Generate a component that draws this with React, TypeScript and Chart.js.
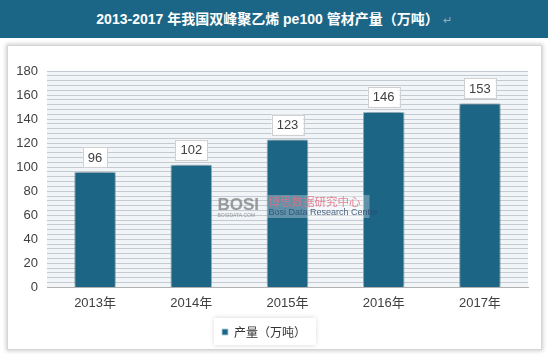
import React, { useEffect, useRef } from "react";
import { Chart, registerables } from "chart.js";

Chart.register(...registerables);

const categories = ["2013年", "2014年", "2015年", "2016年", "2017年"];
const production = [96, 102, 123, 146, 153];
const seriesName = "产量（万吨）";
const titleText = "2013-2017 年我国双峰聚乙烯 pe100 管材产量（万吨）";
const yMax = 180;
const yLabelStep = 20;
const yStripeStep = 4;

const BAR = "#1c6585";
const FONT = '"Liberation Sans", "Noto Sans CJK SC", sans-serif';

const plotBg = {
  id: "plotBg",
  beforeDraw(chart: any) {
    const { ctx, chartArea: a } = chart;
    ctx.save();
    ctx.fillStyle = "#f2f5f8";
    ctx.fillRect(a.left, a.top, a.right - a.left, a.bottom - a.top);
    const lg = chart.legend;
    if (lg && lg.legendHitBoxes && lg.legendHitBoxes.length) {
      const hb = lg.legendHitBoxes[0];
      const x = hb.left - 8;
      const y = hb.top - 8;
      const w = hb.width + 18;
      const h = hb.height + 15;
      ctx.shadowColor = "rgba(0,0,0,0.18)";
      ctx.shadowBlur = 5;
      ctx.fillStyle = "#ffffff";
      ctx.fillRect(x, y, w, h);
    }
    ctx.restore();
  },
};

const barShadow = {
  id: "barShadow",
  beforeDatasetsDraw(chart: any) {
    const ctx = chart.ctx;
    ctx.save();
    ctx.shadowColor = "rgba(0,0,0,0.45)";
    ctx.shadowBlur = 6;
    ctx.shadowOffsetX = 0;
    ctx.shadowOffsetY = 0;
  },
  afterDatasetsDraw(chart: any) {
    const ctx = chart.ctx;
    ctx.restore();
    const a = chart.chartArea;
    const cx = (a.left + a.right) / 2;
    ctx.save();
    ctx.fillStyle = "rgba(255,255,255,0.3)";
    ctx.fillRect(cx - 20, 195, 102, 23);
    ctx.globalAlpha = 0.85;
    ctx.font = `bold 17px ${FONT}`;
    ctx.fillStyle = "#8a8a8a";
    ctx.textBaseline = "middle";
    ctx.textAlign = "left";
    ctx.fillText("BOSI", cx - 70, 205);
    ctx.font = `5px ${FONT}`;
    ctx.fillText("BOSIDATA.COM", cx - 70, 216);
    ctx.font = `11.5px "Noto Sans CJK SC", sans-serif`;
    ctx.fillStyle = "#e07080";
    ctx.fillText("博思数据研究中心", cx - 19, 202);
    ctx.font = `9px ${FONT}`;
    ctx.fillStyle = "#2a4a70";
    ctx.fillText("Bosi Data Research Center", cx - 19, 213);
    ctx.restore();
    const meta = chart.getDatasetMeta(0);
    ctx.save();
    ctx.font = `13px ${FONT}`;
    ctx.textAlign = "center";
    ctx.textBaseline = "middle";
    meta.data.forEach((el: any, i: number) => {
      const txt = String(chart.data.datasets[0].data[i]);
      const tw = ctx.measureText(txt).width;
      const w = tw + 10;
      const h = 20;
      const x = el.x - w / 2;
      const y = el.y - 5 - h;
      ctx.fillStyle = "#ffffff";
      ctx.fillRect(x, y, w, h);
      ctx.strokeStyle = "#d0d0d0";
      ctx.lineWidth = 1;
      ctx.strokeRect(Math.round(x) + 0.5, Math.round(y) + 0.5, Math.round(w), h);
      ctx.fillStyle = "#404040";
      ctx.fillText(txt, el.x, y + h / 2 + 1);
    });
    ctx.restore();
  },
};

export default function App() {
  const ref = useRef<HTMLCanvasElement>(null);
  useEffect(() => {
    if (!ref.current) return;
    const chart = new Chart(ref.current, {
      type: "bar",
      data: {
        labels: categories,
        datasets: [
          {
            label: seriesName,
            data: production,
            backgroundColor: BAR,
            borderColor: "rgba(170,205,220,0.9)",
            borderWidth: 1,
            categoryPercentage: 1,
            barPercentage: 0.43,
          },
        ],
      },
      options: {
        animation: false,
        responsive: false,
        maintainAspectRatio: false,
        layout: { padding: { top: 71, right: 20, bottom: 9, left: 0 } },
        plugins: {
          title: { display: false },
          tooltip: { enabled: false },
          legend: {
            position: "bottom",
            labels: {
              boxWidth: 6,
              boxHeight: 6,
              color: "#333333",
              font: { size: 12, family: '"Noto Sans CJK SC", sans-serif' },
              padding: 7,
            },
          },
        },
        scales: {
          x: {
            grid: { display: false, drawTicks: false },
            border: { display: true, color: "#b0b0b0" },
            ticks: {
              color: "#404040",
              font: { size: 13, family: FONT },
              padding: 8,
            },
          },
          y: {
            min: 0,
            max: yMax,
            afterFit(s: any) {
              s.width = 47;
            },
            grid: { color: "#c3cad2", drawTicks: false, lineWidth: 1 },
            border: { display: false },
            ticks: {
              stepSize: yStripeStep,
              autoSkip: false,
              color: "#404040",
              font: { size: 13, family: FONT },
              padding: 9,
              callback: (v: any) => (Number(v) % yLabelStep === 0 ? String(v) : ""),
            },
          },
        },
      },
      plugins: [plotBg, barShadow],
    });
    return () => chart.destroy();
  }, []);

  return (
    <div style={{ position: "fixed", left: 0, top: 0, width: 548, height: 357, background: "#ffffff", overflow: "hidden" }}>
      <div
        style={{
          position: "absolute",
          left: 0,
          top: 0,
          width: 548,
          height: 38,
          background: "#1b6687",
          color: "#ffffff",
          fontFamily: FONT,
          fontWeight: "bold",
          fontSize: 14,
          lineHeight: "38px",
          textAlign: "center",
          whiteSpace: "nowrap",
        }}
      >
        {titleText}
        <span style={{ color: "#8fb0c0", fontWeight: "normal", fontSize: 11, marginLeft: 4 }}>↵</span>
      </div>
      <div
        style={{
          position: "absolute",
          left: 7,
          top: 45,
          width: 533,
          height: 303,
          background: "#ffffff",
          border: "1px solid #d6d6d6",
          boxShadow: "0 0 4px 1px rgba(0,0,0,0.2)",
        }}
      />
      <canvas ref={ref} width={548} height={357} style={{ position: "absolute", left: 0, top: 0, width: 548, height: 357 }} />
    </div>
  );
}
